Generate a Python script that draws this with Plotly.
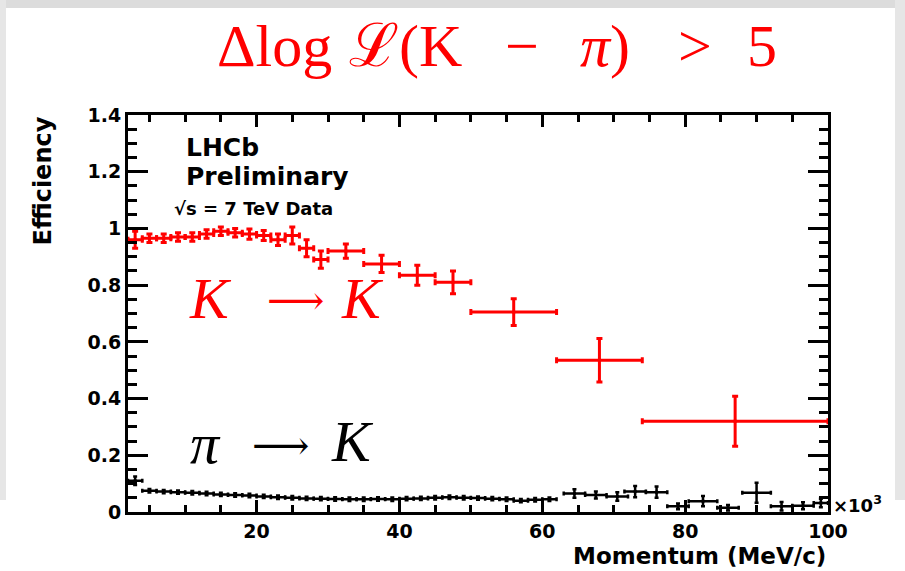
import plotly.graph_objects as go

# ---- data (momentum in units of 10^3 MeV/c) ----
kk_x = [3, 5, 7, 9, 11, 13, 15, 17, 19, 21, 23, 25, 27, 29, 32.5, 37.5, 42.5, 47.5, 56, 68, 87]
kk_xerr = [1]*14 + [2.5, 2.5, 2.5, 2.5, 6, 6, 13]
kk_y = [0.96, 0.965, 0.965, 0.97, 0.97, 0.98, 0.99, 0.985, 0.98, 0.975, 0.96, 0.975, 0.93, 0.89,
        0.92, 0.875, 0.835, 0.81, 0.705, 0.535, 0.32]
kk_yerr = [0.03, 0.015, 0.015, 0.015, 0.015, 0.015, 0.015, 0.015, 0.018, 0.018, 0.02, 0.03, 0.03, 0.03,
           0.025, 0.03, 0.035, 0.04, 0.047, 0.077, 0.088]

pk_x = [3, 5, 7, 9, 11, 13, 15, 17, 19, 21, 23, 25, 27, 29, 31, 33, 35, 37, 39, 41, 43, 45, 47, 49,
        51, 53, 55, 57, 59, 61, 64.5, 67.5, 70.5, 73, 76, 79, 82.5, 86, 90, 93.5, 96.5, 99]
pk_xerr = [1]*30 + [1.5, 1.5, 1.5, 1.5, 1.5, 1.5, 2, 1.5, 2, 1.5, 1.5, 1]
pk_y = [0.11, 0.075, 0.072, 0.07, 0.068, 0.065, 0.062, 0.06, 0.058, 0.055, 0.052, 0.05, 0.048, 0.047,
        0.046, 0.045, 0.045, 0.046, 0.045, 0.047, 0.048, 0.05, 0.052, 0.05, 0.049, 0.047, 0.045, 0.04,
        0.043, 0.045, 0.065, 0.06, 0.055, 0.072, 0.07, 0.02, 0.038, 0.015, 0.068, 0.02, 0.022, 0.032]
pk_yerr = [0.015] + [0.006]*29 + [0.015, 0.012, 0.015, 0.02, 0.02, 0.01, 0.018, 0.01, 0.035, 0.015, 0.012, 0.015]

x_ticks = [20, 40, 60, 80, 100]
y_ticks = [0, 0.2, 0.4, 0.6, 0.8, 1.0, 1.2, 1.4]
y_ticklabels = ["0", "0.2", "0.4", "0.6", "0.8", "1", "1.2", "1.4"]

RED = "#ff0000"
SANS = "DejaVu Sans, Liberation Sans, Arial, sans-serif"
SERIF = "Liberation Serif, DejaVu Serif, serif"

fig = go.Figure()
fig.add_trace(go.Scatter(
    x=kk_x, y=kk_y, mode="markers",
    marker=dict(color=RED, size=3, symbol="square"),
    error_x=dict(type="data", array=kk_xerr, color=RED, thickness=3, width=3),
    error_y=dict(type="data", array=kk_yerr, color=RED, thickness=3, width=3),
    showlegend=False))
fig.add_trace(go.Scatter(
    x=pk_x, y=pk_y, mode="markers",
    marker=dict(color="black", size=3, symbol="square"),
    error_x=dict(type="data", array=pk_xerr, color="black", thickness=2.5, width=2),
    error_y=dict(type="data", array=pk_yerr, color="black", thickness=2.5, width=2),
    showlegend=False))

# plot area: x 128..828, y 115..512
L, R, T, B = 128, 77, 115, 59
W, H = 905, 571
pw, ph = W - L - R, H - T - B


def px(xp):
    return (xp - L) / pw


def py(yp):
    return (H - B - yp) / ph


gray = "#dcdcdc"
shapes = [
    dict(type="rect", xref="paper", yref="paper", x0=px(0), x1=px(W), y0=py(0), y1=py(8),
         fillcolor=gray, line=dict(width=0), layer="below"),
    dict(type="rect", xref="paper", yref="paper", x0=px(0), x1=px(6), y0=py(0), y1=py(500),
         fillcolor="#e6e6e6", line=dict(width=0), layer="below"),
    dict(type="rect", xref="paper", yref="paper", x0=px(895), x1=px(W), y0=py(0), y1=py(500),
         fillcolor="#e6e6e6", line=dict(width=0), layer="below"),
]


def txt(text, xc, yc, size, color="black", family=SANS, xanchor="center", **kw):
    return dict(text=text, xref="paper", yref="paper", x=px(xc), y=py(yc),
                xanchor=xanchor, yanchor="middle", showarrow=False,
                font=dict(family=family, size=size, color=color), **kw)


annotations = [
    # title pieces
    txt("Δlog", 274, 46, 60, RED, SERIF),
    txt("ℒ(K", 405, 46, 60, RED, SERIF),
    txt("−", 522, 46, 60, RED, SERIF),
    txt("<i>π</i>)", 605, 46, 60, RED, SERIF),
    txt(">", 695, 46, 60, RED, SERIF),
    txt("5", 762, 46, 60, RED, SERIF),
    # LHCb labels
    txt("<b>LHCb</b>", 184, 147, 25, xanchor="left"),
    txt("<b>Preliminary</b>", 184, 176, 25, xanchor="left"),
    txt("<b>√s = 7 TeV Data</b>", 172, 208, 18, xanchor="left"),
    # K -> K
    txt("<i>K</i>", 210, 298, 58, RED, SERIF),
    txt("⟶", 295, 300, 40, RED, "DejaVu Serif, DejaVu Sans, serif"),
    txt("<i>K</i>", 362, 298, 58, RED, SERIF),
    # pi -> K
    txt("<i>π</i>", 205, 443, 58, "black", SERIF),
    txt("⟶", 280, 445, 40, "black", "DejaVu Serif, DejaVu Sans, serif"),
    txt("<i>K</i>", 352, 441, 58, "black", SERIF),
    # axis decorations
    txt("<b>×10<sup>3</sup></b>", 831, 504, 18, xanchor="left"),
    dict(text="<b>Momentum (MeV/c)</b>", xref="paper", yref="paper", x=1.0, y=py(556),
         xanchor="right", yanchor="middle", showarrow=False,
         font=dict(family=SANS, size=23, color="black")),
    dict(text="<b>Efficiency</b>", xref="paper", yref="paper", x=px(42), y=1.0,
         xanchor="center", yanchor="top", textangle=-90, showarrow=False,
         font=dict(family=SANS, size=24, color="black")),
]

fig.update_layout(
    width=W, height=H,
    margin=dict(l=L, r=R, t=T, b=B),
    paper_bgcolor="white", plot_bgcolor="white",
    shapes=shapes, annotations=annotations,
    xaxis=dict(range=[2, 100], tickvals=x_ticks, ticktext=[str(v) for v in x_ticks],
               ticks="inside", ticklen=12, tickwidth=2.5, tickcolor="black",
               showline=True, linewidth=3, linecolor="black", mirror="allticks",
               showgrid=False, zeroline=False,
               minor=dict(dtick=5, tick0=0, ticks="inside", ticklen=7, tickwidth=2.5, tickcolor="black",
                          showgrid=False),
               tickfont=dict(family=SANS, size=19, color="black", weight="bold")),
    yaxis=dict(range=[0, 1.4], tickvals=y_ticks, ticktext=y_ticklabels,
               ticks="inside", ticklen=20, tickwidth=2.5, tickcolor="black",
               showline=True, linewidth=3, linecolor="black", mirror="allticks",
               showgrid=False, zeroline=False,
               minor=dict(dtick=0.05, tick0=0, ticks="inside", ticklen=9, tickwidth=2.5, tickcolor="black",
                          showgrid=False),
               tickfont=dict(family=SANS, size=19, color="black", weight="bold")),
)

fig.write_html("out.html", config={"displayModeBar": False},
               post_script="document.body.style.margin='0px';")
